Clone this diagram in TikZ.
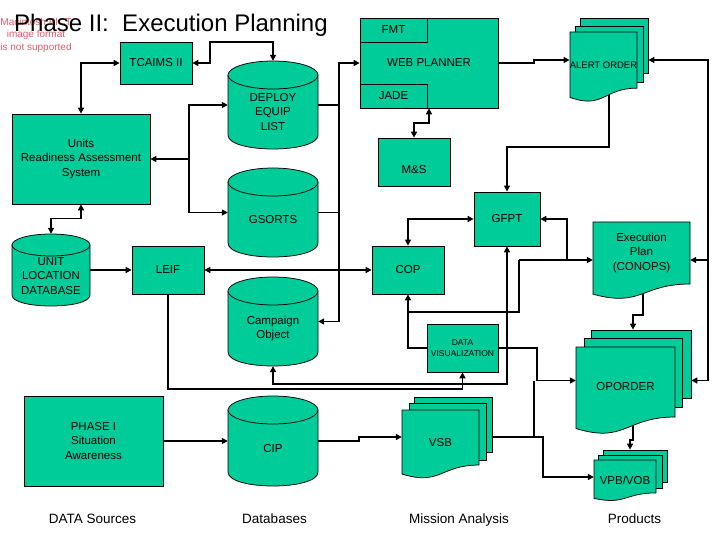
\documentclass[tikz,border=0pt]{standalone}
\usepackage{fontspec}
\setmainfont{Liberation Sans}
\usetikzlibrary{arrows.meta,calc}
\pgfdeclarelayer{bg}
\pgfsetlayers{bg,main}
\definecolor{boxfill}{RGB}{0,204,153}
\definecolor{pictred}{RGB}{228,90,105}
\tikzset{
  outline/.style={draw=black, fill=boxfill, line width=0.75pt},
  box/.style={outline, inner sep=0pt, align=center, font=\fontsize{11.5}{14.5}\selectfont},
  page/.style={outline, inner sep=0pt},
  lbl/.style={inner sep=0pt, align=center, font=\fontsize{11.5}{14.5}\selectfont},
  colcaption/.style={inner sep=0pt, anchor=base, font=\fontsize{13.5}{16}\selectfont},
  link/.style={line width=1.7pt},
}
% cylinder: name, cx, top, bottom, half width, ry
\newcommand{\dbcyl}[6]{%
  \filldraw[outline] ({#2-#5},{#3+#6}) -- ({#2-#5},{#4-#6})
    .. controls ({#2-#5},{#4+0.333*#6}) and ({#2+#5},{#4+0.333*#6}) .. ({#2+#5},{#4-#6})
    -- ({#2+#5},{#3+#6}) -- cycle;
  \filldraw[outline] (#2,{#3+#6}) ellipse [x radius=#5, y radius=#6];
  \node[inner sep=0pt, minimum width={2*#5}, minimum height={#4-#3}] (#1) at (#2,{(#3+#4)/2}) {};
}
% document page with wavy bottom: x1, top, x2, height
\newcommand{\docshape}[4]{%
  \filldraw[outline] (#1,#2) -- (#3,#2) -- (#3,{#2+0.802*#4})
    .. controls ({(#1+#3)/2},{#2+0.802*#4}) and ({(#1+#3)/2},{#2+1.107*#4}) .. (#1,{#2+0.934*#4}) -- cycle;
}
\begin{document}
\begin{tikzpicture}[x=1pt,y=-1pt,>={Triangle[length=6pt,width=6pt]}]
\useasboundingbox (0,0) rectangle (720,540);

% placeholder text and title
\node[inner sep=0pt, align=center, text=pictred, font=\fontsize{10}{12.5}\selectfont] (pict) at (36,35) {Macintosh PICT\\image format\\is not supported};
\node[anchor=base west, inner sep=0pt, font=\fontsize{24}{28}\selectfont] (title) at (14,32) {Phase II:\ \ Execution Planning};

% rectangles
\node[box, minimum width=72, minimum height=42] (tcaims) at (156,63) {TCAIMS II};
\node[box, minimum width=138, minimum height=90] (units) at (81,159) {Units\\Readiness Assessment\\System};
\node[box, minimum width=138, minimum height=90] (webp) at (429,63) {WEB PLANNER};
\node[box, minimum width=67, minimum height=24] (fmt) at (393.5,30) {FMT};
\node[box, minimum width=67, minimum height=24] (jade) at (393.5,96) {JADE};
\node[box, minimum width=72, minimum height=48] (ms) at (414,162) {};
\node[lbl] (ms-t) at (414,170) {M\&S};
\node[box, minimum width=66, minimum height=54] (gfpt) at (507,219) {GFPT};
\node[box, minimum width=72, minimum height=48] (cop) at (408,270) {COP};
\node[box, minimum width=72, minimum height=48] (leif) at (168,270) {LEIF};
\node[box, minimum width=71, minimum height=48, font=\fontsize{8.5}{11}\selectfont] (dataviz) at (462.5,348) {DATA\\VISUALIZATION};
\node[box, minimum width=139, minimum height=90] (phase1) at (93.5,441) {PHASE I\\Situation\\Awareness};

% databases
\dbcyl{deploy}{273}{61}{149}{45}{14}
\node[lbl] (deploy-t) at (273,112) {DEPLOY\\EQUIP\\LIST};
\dbcyl{gsorts}{273}{168}{257}{45}{14}
\node[lbl] (gsorts-t) at (273,220) {GSORTS};
\dbcyl{campaign}{273}{277}{366}{45}{14}
\node[lbl] (campaign-t) at (273,328.5) {Campaign\\Object};
\dbcyl{cip}{273}{396}{486}{45}{14}
\node[lbl] (cip-t) at (273,449) {CIP};
\dbcyl{unitloc}{51}{234}{306}{39}{11}
\node[lbl] (unitloc-t) at (51,276) {UNIT\\LOCATION\\DATABASE};

% documents
\node[page, minimum width=68, minimum height=55] (alert3) at (614,45.5) {};
\node[page, minimum width=68, minimum height=56] (alert2) at (609,54) {};
\docshape{570}{32}{637}{70}
\node[inner sep=0pt, minimum width=67, minimum height=66, font=\fontsize{9.5}{11}\selectfont] (alert) at (603.5,65) {ALERT ORDER};

\docshape{593}{222}{690}{77.3}
\node[inner sep=0pt, minimum width=97, minimum height=76] (exec) at (641.5,260) {};
\node[lbl] (exec-t) at (641.5,253) {Execution\\Plan\\(CONOPS)};

\node[page, minimum width=100, minimum height=68] (op3) at (641,364) {};
\node[page, minimum width=98, minimum height=69] (op2) at (633,372.5) {};
\docshape{576}{347}{675}{87.3}
\node[lbl, minimum width=99, minimum height=80] (op) at (625.5,387) {OPORDER};

\node[page, minimum width=64, minimum height=32] (vpb3) at (635,466) {};
\node[page, minimum width=64, minimum height=33] (vpb2) at (630,471.5) {};
\docshape{594}{460}{656}{41}
\node[lbl, minimum width=62, minimum height=40] (vpb) at (625,480) {VPB/VOB};

\node[page, minimum width=78, minimum height=55] (vsb3) at (453,424.5) {};
\node[page, minimum width=77, minimum height=57] (vsb2) at (447.5,431.5) {};
\docshape{402}{410}{479}{68.6}
\node[lbl, minimum width=77, minimum height=66] (vsb) at (440.5,443) {VSB};

% column captions
\node[colcaption] (c1) at (92.5,523) {DATA Sources};
\node[colcaption] (c2) at (274.5,523) {Databases};
\node[colcaption] (c3) at (459,523) {Mission Analysis};
\node[colcaption] (c4) at (634.5,523) {Products};

% connectors
\begin{pgfonlayer}{bg}
\fill[white] (0,0) rectangle (720,540);
\draw[link,<->] (tcaims.west) -| (units.north);
\draw[link,<->] (tcaims.east) -- (210,63) -- (210,42) -| (deploy.north);
\coordinate (ubus) at (189,159);
\draw[link,->] (ubus) -- (units.east);
\draw[link,->] (ubus) |- (deploy.west);
\draw[link,->] (ubus) |- (gsorts.west);
\draw[link,<->] (webp.west) -- (339,63) |- (campaign.east);
\draw[link] (deploy.east) -- (339,105);
\draw[link] (gsorts.east) -- (339,212.5);
\draw[link,->] (webp.east) -- (534,63) -- (534,60) -- (alert.west |- 0,60);
\draw[link,<->] (alert3.east |- 0,60) -- (708,60) |- (op3.east |- 0,380.5);
\draw[link,->] (708,260) -- (exec.east);
\draw[link,->] ($(alert.center)+(5.5,0)$) -- (609,147) -| (gfpt.north);
\draw[link,<->] (webp.south) -- (429,123) -| (ms.north);
\draw[link,<->] (cop.north) |- (gfpt.west);
\draw[link,<->] (units.south) -- (81,218.5) -| (unitloc.north);
\draw[link,->] (unitloc.east) -- (leif.west);
\draw[link,<->] (leif.east) -- (cop.west);
\draw[link,->] (leif.south) -- (168,389) -| (dataviz.south);
\draw[link,<->] (campaign.south) -- (273,384) -| (gfpt.south);
\draw[link,->] (567,260) |- (gfpt.east);
\draw[link,->] (519,260) -- (exec.west);
\draw[link] (408,312) -| (519,260);
\draw[link,->] (dataviz.west) -| (cop.south);
\draw[link,->] ($(exec.center)+(1.5,0)$) -- (643,315) -| ($(op3.north)+(-8,0)$);
\draw[link,->] ($(op.center)+(7.5,0)$) -- (633,440) -| ($(vpb3.north)+(-5,0)$);
\draw[link,->] (dataviz.east) -- (537,348) -- (537,380.5) -- (op.west |- 0,380.5);
\draw[link] (vsb3.east |- 0,437) -- (534,437) -- (534,380.5);
\draw[link,->] (vsb3.east |- 0,437) -- (543,437) |- (vpb.west |- 0,477);
\draw[link,->] (phase1.east) -- (cip.west);
\draw[link,->] (cip.east) -- (359,441) -- (359,437) -- (vsb.west |- 0,437);
\end{pgfonlayer}
\end{tikzpicture}
\end{document}
